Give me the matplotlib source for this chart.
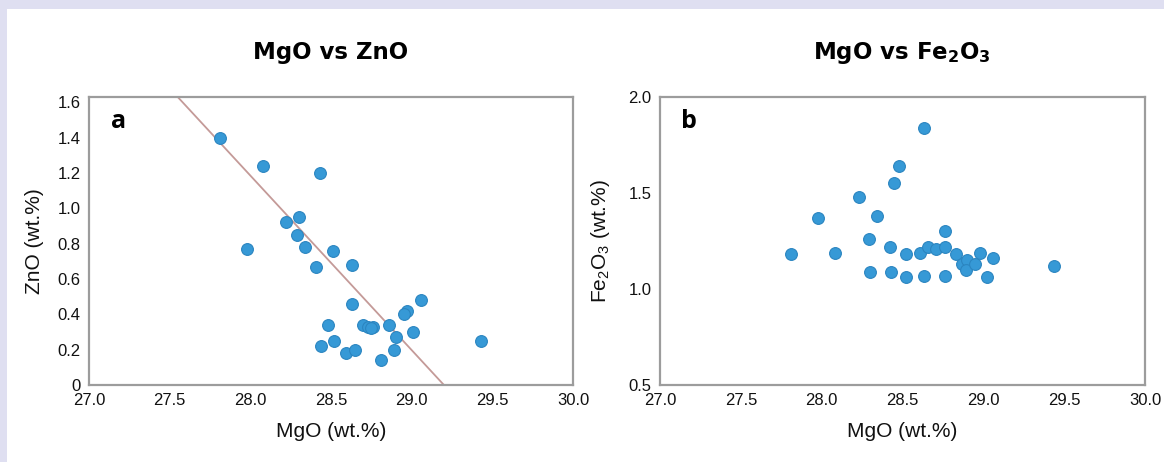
import matplotlib
matplotlib.use("Agg")
import matplotlib.pyplot as plt
from matplotlib.patches import Rectangle

# panel a: MgO vs ZnO
mgo_a = [27.81, 28.08, 28.43, 28.22, 28.30, 28.29, 27.98, 28.34, 28.51, 28.41,
         28.63, 28.63, 29.06, 28.97, 28.95, 28.48, 28.70, 28.73, 28.76, 28.75,
         28.86, 29.01, 28.90, 29.43, 28.44, 28.52, 28.59, 28.65, 28.89, 28.81]
zno = [1.40, 1.24, 1.20, 0.92, 0.95, 0.85, 0.77, 0.78, 0.76, 0.67,
       0.68, 0.46, 0.48, 0.42, 0.40, 0.34, 0.34, 0.33, 0.33, 0.32,
       0.34, 0.30, 0.27, 0.25, 0.22, 0.25, 0.18, 0.20, 0.20, 0.14]
# trend line end points as drawn
fit_x = [27.55, 29.20]
fit_y = [1.63, 0.0]

# panel b: MgO vs Fe2O3
mgo_b = [27.81, 27.98, 28.08, 28.23, 28.34, 28.45, 28.48, 28.63, 28.29, 28.42,
         28.52, 28.61, 28.66, 28.71, 28.76, 28.76, 28.83, 28.87, 28.90, 28.89,
         28.95, 28.98, 29.06, 29.44, 28.30, 28.43, 28.52, 28.63, 28.76, 29.02]
fe2o3 = [1.18, 1.37, 1.19, 1.48, 1.38, 1.55, 1.64, 1.84, 1.26, 1.22,
         1.18, 1.19, 1.22, 1.21, 1.22, 1.30, 1.18, 1.13, 1.15, 1.10,
         1.13, 1.19, 1.16, 1.12, 1.09, 1.09, 1.06, 1.07, 1.07, 1.06]

xticks = [27.0, 27.5, 28.0, 28.5, 29.0, 29.5, 30.0]
yticks_a = [0, 0.2, 0.4, 0.6, 0.8, 1.0, 1.2, 1.4, 1.6]
ylabels_a = ["0", "0.2", "0.4", "0.6", "0.8", "1.0", "1.2", "1.4", "1.6"]
yticks_b = [0.5, 1.0, 1.5, 2.0]

plt.rcParams["font.family"] = ["Liberation Sans", "DejaVu Sans"]
plt.rcParams["mathtext.fontset"] = "custom"
plt.rcParams["mathtext.rm"] = "Liberation Sans"
plt.rcParams["mathtext.it"] = "Liberation Sans:italic"
plt.rcParams["mathtext.bf"] = "DejaVu Sans:bold"

W, H = 1164, 462
fig = plt.figure(figsize=(W / 100, H / 100), dpi=100)
fig.patch.set_facecolor("white")

# lavender frame strips at top and left
band = "#dfdff1"
fig.patches.append(Rectangle((0, 1 - 9 / H), 1, 9 / H, transform=fig.transFigure,
                             facecolor=band, edgecolor="none", zorder=0))
fig.patches.append(Rectangle((0, 0), 6.5 / W, 1, transform=fig.transFigure,
                             facecolor=band, edgecolor="none", zorder=0))

bottom = 1 - 385 / H
height = (385 - 97) / H
ax_a = fig.add_axes([89 / W, bottom, 484 / W, height])
ax_b = fig.add_axes([660 / W, bottom, 485 / W, height])

dot = "#3699d6"
dot_edge = "#2b85c0"
ax_a.plot(fit_x, fit_y, color="#c49a98", lw=1.3, zorder=1)
ax_a.scatter(mgo_a, zno, s=72, color=dot, edgecolors=dot_edge, linewidths=0.8, zorder=2)
ax_b.scatter(mgo_b, fe2o3, s=72, color=dot, edgecolors=dot_edge, linewidths=0.8, zorder=2)

ax_a.set_ylim(0, 1.63)
ax_a.set_yticks(yticks_a)
ax_a.set_yticklabels(ylabels_a)
ax_b.set_ylim(0.5, 2.0)
ax_b.set_yticks(yticks_b)
ax_b.set_yticklabels([f"{v:.1f}" for v in yticks_b])

for ax in (ax_a, ax_b):
    ax.set_xlim(27.0, 30.0)
    ax.set_xticks(xticks)
    ax.set_xticklabels([f"{v:.1f}" for v in xticks])
    ax.tick_params(length=0, labelsize=12, pad=6, colors="#111111")
    for sp in ax.spines.values():
        sp.set_color("#9c9c9c")
        sp.set_linewidth(1.6)
    ax.set_xlabel("MgO (wt.%)", fontsize=15, color="#111111")
    ax.xaxis.set_label_coords(0.5, -0.13)

ax_a.set_ylabel("ZnO (wt.%)", fontsize=15, color="#111111")
ax_a.yaxis.set_label_coords(-0.092, 0.5)
ax_b.set_ylabel("Fe$_2$O$_3$ (wt.%)", fontsize=15, color="#111111")
ax_b.yaxis.set_label_coords(-0.10, 0.5)

ax_a.text(0.045, 0.893, "a", transform=ax_a.transAxes, fontsize=18,
          fontfamily="Open Sans", fontweight="bold", va="baseline")
ax_b.text(0.043, 0.893, "b", transform=ax_b.transAxes, fontsize=18,
          fontfamily="Open Sans", fontweight="bold", va="baseline")

fig.text(331 / W, 1 - 53 / H, "MgO vs ZnO", fontsize=16.5, fontfamily="DejaVu Sans",
         fontweight="bold", ha="center", va="center")
fig.text(902 / W, 1 - 53 / H, r"MgO vs Fe$_\mathbf{2}$O$_\mathbf{3}$", fontsize=16.5,
         fontfamily="DejaVu Sans", fontweight="bold", ha="center", va="center")

fig.savefig("out.png", dpi=100)
